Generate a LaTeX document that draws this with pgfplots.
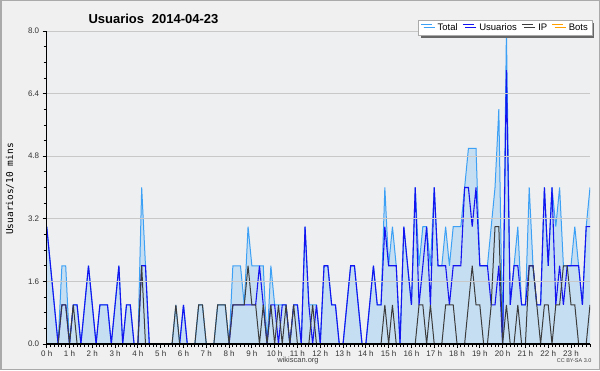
\documentclass[border=0pt]{standalone}
\usepackage{fontspec}
\setmainfont{Liberation Sans}
\newfontfamily\monofont{DejaVu Sans Mono}
\usepackage{pgfplots}
\pgfplotsset{compat=1.18}
\usepackage{pgfplotstable}
\usetikzlibrary{shadows}

\definecolor{outerbg}{RGB}{240,240,240}
\definecolor{plotbg}{RGB}{237,239,241}
\definecolor{framec}{RGB}{170,170,170}
\definecolor{gridc}{RGB}{200,200,200}
\definecolor{totalline}{RGB}{60,160,245}
\definecolor{totalfill}{RGB}{198,222,242}
\definecolor{usu}{RGB}{20,20,240}
\definecolor{ipc}{RGB}{60,60,60}
\definecolor{botsc}{RGB}{255,160,0}

\pgfplotstableread{
i T U P
0 3 3 0
1 2 2 0
2 1 1 0
3 0 0 0
4 2 1 1
5 2 1 1
6 0 0 0
7 1 1 1
8 1 1 0
9 0 0 0
10 1 1 0
11 2 2 0
12 1 1 0
13 0 0 0
14 1 1 0
15 1 1 0
16 1 1 0
17 0 0 0
18 1 1 0
19 2 2 0
20 0 0 0
21 1 1 0
22 1 1 0
23 0 0 0
24 0 0 0
25 4 2 2
26 2 2 0
27 0 0 0
28 0 0 0
29 0 0 0
30 0 0 0
31 0 0 0
32 0 0 0
33 0 0 0
34 1 0 1
35 0 0 0
36 1 1 0
37 0 0 0
38 0 0 0
39 0 0 0
40 1 0 1
41 1 0 1
42 0 0 0
43 0 0 0
44 0 0 0
45 1 0 1
46 1 0 1
47 1 0 1
48 0 0 0
49 2 1 1
50 2 1 1
51 2 1 1
52 1 1 1
53 3 1 2
54 2 1 1
55 2 1 1
56 2 2 0
57 2 1 1
58 0 0 0
59 2 1 1
60 1 1 0
61 1 0 1
62 1 1 0
63 1 1 1
64 0 0 0
65 1 1 1
66 1 1 0
67 0 0 0
68 3 3 0
69 1 1 0
70 1 0 1
71 1 1 0
72 0 0 0
73 2 2 0
74 2 2 0
75 1 1 0
76 1 1 0
77 0 0 0
78 0 0 0
79 1 1 0
80 2 2 0
81 2 2 0
82 1 1 0
83 0 0 0
84 0 0 0
85 1 1 0
86 2 2 0
87 1 1 0
88 1 1 0
89 4 3 1
90 2 2 0
91 3 2 1
92 2 2 0
93 0 0 0
94 3 3 0
95 2 2 0
96 1 1 0
97 4 4 0
98 2 1 1
99 3 2 1
100 3 3 0
101 2 1 1
102 4 4 0
103 2 2 0
104 2 2 0
105 3 2 1
106 2 1 1
107 3 2 1
108 3 2 0
109 3 2 0
110 4 4 0
111 5 4 1
112 5 3 2
113 5 4 1
114 2 2 1
115 2 2 0
116 2 2 0
117 3 1 1
118 4 1 3
119 6 2 3
120 0 0 0
121 8 7 1
122 1 1 0
123 2 2 0
124 3 2 1
125 1 1 0
126 1 1 0
127 4 2 2
128 2 2 2
129 1 1 1
130 1 1 0
131 4 4 1
132 2 2 1
133 4 4 0
134 3 1 1
135 4 2 1
136 2 1 2
137 2 2 2
138 2 2 1
139 3 2 1
140 2 2 0
141 1 1 0
142 3 3 0
143 4 3 1
}\datatable

\begin{document}
\begin{tikzpicture}
\useasboundingbox (0pt,0pt) rectangle (600pt,370pt);
\fill[outerbg] (0pt,0pt) rectangle (600pt,370pt);
\draw[framec, line width=1.5pt] (0.75pt,0.75pt) rectangle (599.25pt,369.25pt);
\begin{axis}[
  at={(46.7pt,26pt)}, anchor=south west,
  scale only axis, width=543.3pt, height=313pt,
  xmin=0, xmax=143, ymin=0, ymax=8,
  axis x line*=bottom, axis y line*=left,
  axis line style={black, line width=1.2pt, -},
  axis background/.style={fill=plotbg},
  axis on top,
  no markers,
  tick align=outside,
  major tick length=4pt, minor tick length=3pt,
  tick style={black, line width=0.8pt},
  xtick={0,6,...,138},
  xticklabels={0 h,1 h,2 h,3 h,4 h,5 h,6 h,7 h,8 h,9 h,10 h,11 h,12 h,13 h,14 h,15 h,16 h,17 h,18 h,19 h,20 h,21 h,22 h,23 h},
  minor xtick={0,1,...,143},
  ytick={0,1.6,3.2,4.8,6.4,8},
  yticklabels={0.0,1.6,3.2,4.8,6.4,8.0},
  minor y tick num=3,
  ymajorgrids, major grid style={gridc, line width=0.8pt},
  xticklabel style={font=\fontsize{8}{9}\selectfont, text=black!80, yshift=1pt},
  yticklabel style={font=\fontsize{8}{9}\selectfont, text=black!80},
  legend style={at={(1.0037,1.035)}, anchor=north east, legend columns=-1,
    draw=framec, fill=white, font=\fontsize{9.5}{11}\selectfont,
    inner xsep=2pt, inner ysep=1.5pt,
    /tikz/every odd column/.append style={column sep=3pt},
    /tikz/every even column/.append style={column sep=2.5pt},
    drop shadow={shadow xshift=2.5pt, shadow yshift=-2.5pt, fill=black!60, opacity=1}},
  legend image code/.code={\draw[#1] (0pt,3.2pt) -- (11pt,3.2pt);},
]
\addplot[draw=none, fill=totalfill, forget plot] table[x=i,y=T]{\datatable} \closedcycle;
\addplot[totalline, line width=1pt] table[x=i,y=T]{\datatable};
\addlegendentry{Total}
\addplot[usu, line width=1.1pt] table[x=i,y=U]{\datatable};
\addlegendentry{Usuarios}
\addplot[ipc, line width=1pt] table[x=i,y=P]{\datatable};
\addlegendentry{IP}
\addlegendimage{botsc, line width=1pt}
\addlegendentry{Bots}
\end{axis}
\node[anchor=west, font=\fontsize{13}{15}\selectfont\bfseries] at (85pt,351.5pt) {Usuarios\hspace{0.6em}2014-04-23};
\node[rotate=90, font=\monofont\fontsize{9.5}{11}\selectfont] at (10pt,181pt) {Usuarios/10 mins};
\node[font=\fontsize{7.5}{9}\selectfont, text=black!75] at (298pt,9pt) {wikiscan.org};
\node[anchor=east, font=\fontsize{5.5}{7}\selectfont, text=black!75] at (595pt,9pt) {CC BY-SA 3.0};
\end{tikzpicture}
\end{document}
